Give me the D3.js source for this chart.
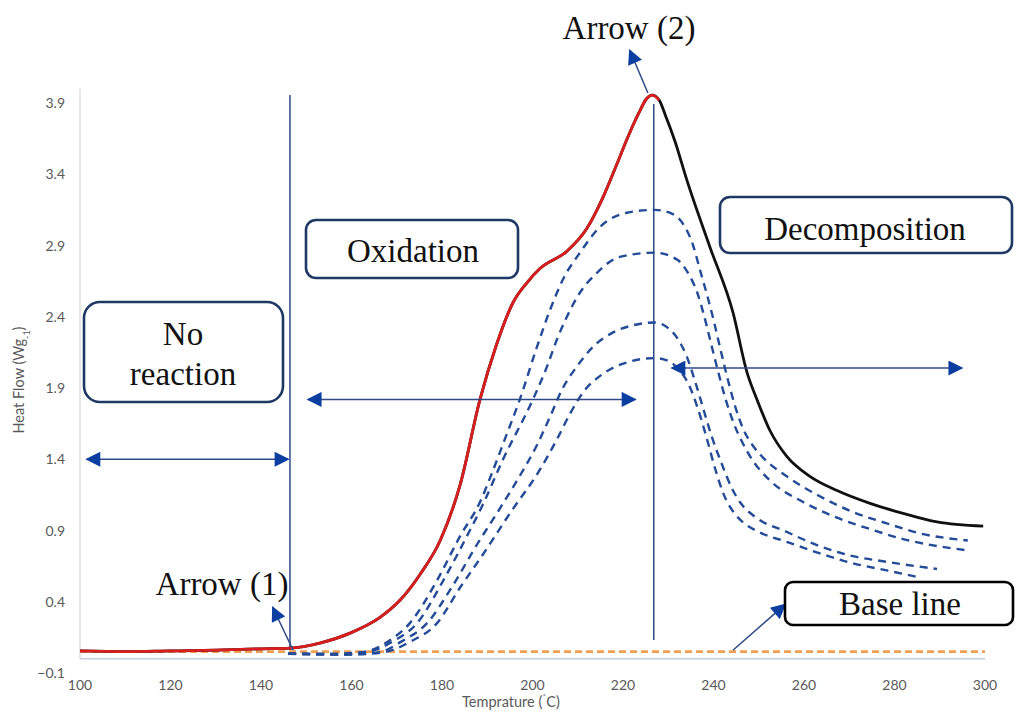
<!DOCTYPE html>
<html>
<head>
<meta charset="utf-8">
<script src="https://cdn.jsdelivr.net/npm/d3@7"></script>
<style>
  html, body { margin: 0; padding: 0; background: #ffffff; }
  svg { display: block; }
</style>
</head>
<body>
<svg id="chart" width="1017" height="711"></svg>
<script>
// ---- axis ticks ----
const xTicks = [100, 120, 140, 160, 180, 200, 220, 240, 260, 280, 300];
const yTicks = [-0.1, 0.4, 0.9, 1.4, 1.9, 2.4, 2.9, 3.4, 3.9];

// ---- DSC trace (temperature °C, heat flow W/g) ----
// rising edge up to the exotherm maximum
const dscRise = [
  [100, 0.055], [110, 0.05], [120, 0.055], [130, 0.06], [140, 0.07], [146.4, 0.075],
  [153, 0.11], [159.7, 0.18], [166.3, 0.29], [170.7, 0.41], [175.1, 0.59],
  [179.6, 0.83], [184, 1.22], [188.4, 1.82], [192, 2.2], [195.7, 2.5],
  [198.8, 2.64], [201.7, 2.74], [207.6, 2.86], [212, 3.02], [215.6, 3.24],
  [218.5, 3.46], [221.2, 3.67], [223.5, 3.83], [225.2, 3.93], [226.5, 3.955],
  [228, 3.92]
];
// decomposition tail after the maximum
const dscDecay = [
  [229.3, 3.82], [231.5, 3.63], [234.1, 3.36], [239.2, 2.89], [244.3, 2.43],
  [247.4, 2.01], [249.6, 1.82], [252.5, 1.6], [256.2, 1.42], [261.3, 1.28],
  [267.3, 1.18], [274.6, 1.09], [281.9, 1.02], [289.4, 0.96], [299.6, 0.93]
];

// ---- comparison runs (dashed) ----
const runA = [
  [146, 0.035], [156, 0.035], [163, 0.05], [168, 0.12], [172.9, 0.25], [178.9, 0.55],
  [184, 0.86], [188.4, 1.1], [191, 1.3], [194, 1.55], [197.2, 1.82], [201, 2.19],
  [203.9, 2.45], [206.7, 2.66], [210.5, 2.85], [214.9, 3.03], [220.9, 3.13],
  [227, 3.15], [231, 3.12], [233.3, 3.05], [235.5, 2.9], [237, 2.73], [238.6, 2.55],
  [240, 2.38], [241.4, 2.19], [243, 1.98], [244.8, 1.77], [246.6, 1.61], [248.6, 1.5],
  [251, 1.41], [256.2, 1.28], [263.5, 1.14], [270.8, 1.03], [278.3, 0.95],
  [285.6, 0.88], [296.2, 0.83]
];
const runB = [
  [146, 0.035], [157, 0.03], [164, 0.05], [169, 0.12], [174.5, 0.25], [180.3, 0.55],
  [185.5, 0.86], [189, 1.08], [193.5, 1.4], [200.1, 1.82], [203.2, 2.05],
  [205.4, 2.24], [207.6, 2.4], [210.5, 2.57], [214.3, 2.71], [219.3, 2.82],
  [227, 2.85], [232, 2.8], [234.5, 2.7], [236.4, 2.57], [237.9, 2.41], [239.4, 2.22],
  [240.9, 2.03], [242.6, 1.83], [244.5, 1.65], [246.5, 1.51], [248.7, 1.39],
  [252.5, 1.25], [259.8, 1.1], [267.3, 0.99], [274.6, 0.91], [281.9, 0.84],
  [296.2, 0.76]
];
const runC = [
  [146, 0.035], [158, 0.03], [166, 0.045], [171, 0.12], [176.7, 0.25], [182.5, 0.52],
  [187.7, 0.8], [192.5, 1.04], [197.5, 1.3], [201, 1.5], [203.9, 1.7],
  [206.7, 1.9], [209.8, 2.05], [213.4, 2.19], [217.8, 2.29], [222.2, 2.34],
  [227, 2.36], [230, 2.32], [232, 2.25], [234.1, 2.12], [235.8, 1.96],
  [237.6, 1.77], [239.6, 1.56], [241.8, 1.37], [244, 1.2], [246.3, 1.08],
  [249, 1.0], [256.2, 0.89], [263.5, 0.79], [270.8, 0.72], [278.3, 0.68], [289.4, 0.63]
];
const runD = [
  [146, 0.035], [160, 0.03], [167, 0.045], [173, 0.12], [178.9, 0.25], [184, 0.5],
  [189, 0.73], [195, 1.02], [201.7, 1.33], [205.4, 1.54], [208.3, 1.72],
  [211.2, 1.87], [215.6, 2.0], [220.9, 2.08], [227, 2.11], [230, 2.09],
  [232.6, 2.02], [234.6, 1.92], [236.5, 1.76], [238.4, 1.56], [240.4, 1.33],
  [242.3, 1.15], [244.4, 1.03], [246.8, 0.95], [250, 0.89], [256.2, 0.82],
  [263.5, 0.74], [270.8, 0.67], [278.3, 0.62], [285.6, 0.57]
];

// ---- base line ----
const baseline = [[100, 0.05], [300, 0.05]];

// ---- phase boundaries (°C) and annotation anchors ----
const phaseBounds = [146.4, 226.8];
const phaseSpans = [
  { from: 101.5, to: 146, at: 1.4 },      // no reaction
  { from: 150.4, to: 222.7, at: 1.82 },   // oxidation
  { from: 230.8, to: 294.9, at: 2.04 }    // decomposition
];
const pointers = [
  { from: [147.1, 0.06], to: [142.6, 0.36] },   // onset
  { from: [225.5, 3.97], to: [221.5, 4.27] },   // maximum
  { from: [244.3, 0.06], to: [255.8, 0.38] }    // base line
];

// ---- layout ----
const svg = d3.select("#chart");
const x = d3.scaleLinear().domain([100, 300]).range([80, 985]);
const y = d3.scaleLinear().domain([-0.1, 4.0]).range([673, 88.75]);

const tickFont = "Lato, 'Open Sans', sans-serif";
const serif = "'Liberation Serif', 'DejaVu Serif', serif";
const navy = "#1f3864";
const arrowBlue = "#0b3ea0";
const lineBlue = "#2d4a86";

// arrowhead markers
const defs = svg.append("defs");
function marker(id, orient) {
  defs.append("marker")
    .attr("id", id)
    .attr("viewBox", "0 0 10 10")
    .attr("refX", 9).attr("refY", 5)
    .attr("markerUnits", "userSpaceOnUse")
    .attr("markerWidth", 17).attr("markerHeight", 15)
    .attr("orient", orient)
    .append("path")
    .attr("d", "M0,0 L10,5 L0,10 Z")
    .attr("fill", arrowBlue);
}
marker("head", "auto");
marker("headStart", "auto-start-reverse");

// axis lines
svg.append("line")
  .attr("x1", x(100)).attr("x2", x(300))
  .attr("y1", y(0)).attr("y2", y(0))
  .attr("stroke", "#c5d0dc").attr("stroke-width", 1.3);
svg.append("line")
  .attr("x1", x(100)).attr("x2", x(100))
  .attr("y1", y(4.0)).attr("y2", y(0))
  .attr("stroke", "#d9d9d9").attr("stroke-width", 1.3);

// tick labels
svg.append("g").selectAll("text").data(yTicks).join("text")
  .attr("x", 65).attr("y", d => y(d)).attr("dy", "0.36em")
  .attr("text-anchor", "end")
  .attr("font-family", tickFont).attr("font-size", 14)
  .attr("fill", "#595959")
  .text(d => d3.format(".1f")(d));

svg.append("g").selectAll("text").data(xTicks).join("text")
  .attr("x", d => x(d)).attr("y", 690)
  .attr("text-anchor", "middle")
  .attr("font-family", tickFont).attr("font-size", 14)
  .attr("fill", "#595959")
  .text(d => d);

// axis titles
const xt = svg.append("text")
  .attr("x", 511).attr("y", 707)
  .attr("text-anchor", "middle")
  .attr("font-family", tickFont).attr("font-size", 14.5)
  .attr("fill", "#595959");
xt.append("tspan").text("Temprature (");
xt.append("tspan").attr("baseline-shift", "super").attr("font-size", 10).text("˚");
xt.append("tspan").text("C)");

const yt = svg.append("text")
  .attr("transform", "translate(24,380) rotate(-90)")
  .attr("text-anchor", "middle")
  .attr("font-family", tickFont).attr("font-size", 14.5)
  .attr("fill", "#595959");
yt.append("tspan").text("Heat Flow (Wg");
yt.append("tspan").attr("baseline-shift", "sub").attr("font-size", 9).text("-1");
yt.append("tspan").text(")");

// phase boundaries
svg.append("line")
  .attr("x1", x(phaseBounds[0])).attr("x2", x(phaseBounds[0]))
  .attr("y1", 95).attr("y2", 650)
  .attr("stroke", lineBlue).attr("stroke-width", 1.5);
svg.append("line")
  .attr("x1", x(phaseBounds[1])).attr("x2", x(phaseBounds[1]))
  .attr("y1", 104).attr("y2", 640)
  .attr("stroke", lineBlue).attr("stroke-width", 1.5);

// curves
const line = d3.line()
  .x(d => x(d[0])).y(d => y(d[1]))
  .curve(d3.curveMonotoneX);

svg.append("path").datum(baseline)
  .attr("d", line).attr("fill", "none")
  .attr("stroke", "#f0a055").attr("stroke-width", 2.6)
  .attr("stroke-dasharray", "7,4");

[runD, runC, runB, runA].forEach(run => {
  svg.append("path").datum(run)
    .attr("d", line).attr("fill", "none")
    .attr("stroke", "#234b98").attr("stroke-width", 2.4)
    .attr("stroke-dasharray", "8,6");
});

svg.append("path").datum(dscRise.concat(dscDecay))
  .attr("d", line).attr("fill", "none")
  .attr("stroke", "#111111").attr("stroke-width", 2.8);
svg.append("path").datum(dscRise)
  .attr("d", line).attr("fill", "none")
  .attr("stroke", "#d81e1e").attr("stroke-width", 2.8);

// phase span arrows
svg.append("g").selectAll("line").data(phaseSpans).join("line")
  .attr("x1", d => x(d.from)).attr("x2", d => x(d.to))
  .attr("y1", d => y(d.at)).attr("y2", d => y(d.at))
  .attr("stroke", lineBlue).attr("stroke-width", 1.5)
  .attr("marker-start", "url(#headStart)")
  .attr("marker-end", "url(#head)");

// pointer arrows
svg.append("g").selectAll("line").data(pointers).join("line")
  .attr("x1", d => x(d.from[0])).attr("y1", d => y(d.from[1]))
  .attr("x2", d => x(d.to[0])).attr("y2", d => y(d.to[1]))
  .attr("stroke", lineBlue).attr("stroke-width", 1.5)
  .attr("marker-end", "url(#head)");

// label boxes
function box(x0, y0, w, h, r, stroke, lines, cx, baselines) {
  svg.append("rect")
    .attr("x", x0).attr("y", y0).attr("width", w).attr("height", h)
    .attr("rx", r).attr("ry", r)
    .attr("fill", "#ffffff").attr("stroke", stroke).attr("stroke-width", 2.6);
  lines.forEach((t, i) => {
    svg.append("text")
      .attr("x", cx).attr("y", baselines[i])
      .attr("text-anchor", "middle")
      .attr("font-family", serif).attr("font-size", 33)
      .attr("fill", "#111111")
      .text(t);
  });
}
box(84, 302, 199, 100, 16, navy, ["No", "reaction"], 183, [345, 385]);
box(306, 220, 212, 58, 10, navy, ["Oxidation"], 413, [262]);
box(720, 197, 292, 56, 10, navy, ["Decomposition"], 865, [240]);
box(785, 582, 228, 43, 8, "#000000", ["Base line"], 900, [615]);

// free labels
svg.append("text")
  .attr("x", 222).attr("y", 595).attr("text-anchor", "middle")
  .attr("font-family", serif).attr("font-size", 33).attr("fill", "#111111")
  .text("Arrow (1)");
svg.append("text")
  .attr("x", 629).attr("y", 39).attr("text-anchor", "middle")
  .attr("font-family", serif).attr("font-size", 33).attr("fill", "#111111")
  .text("Arrow (2)");
</script>
</body>
</html>
